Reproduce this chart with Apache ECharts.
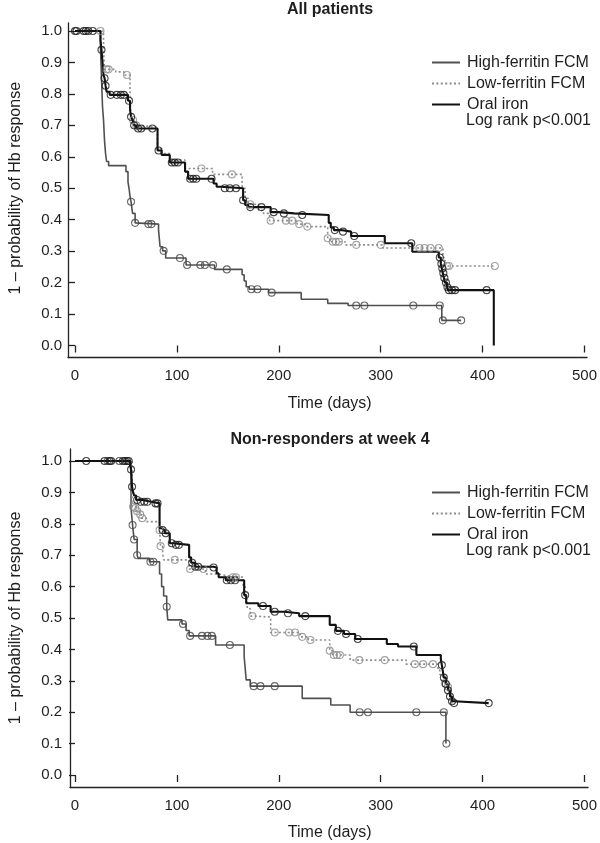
<!DOCTYPE html>
<html>
<head>
<meta charset="utf-8">
<script src="https://cdn.jsdelivr.net/npm/echarts@6/dist/echarts.min.js"></script>
<style>
html,body{margin:0;padding:0;background:#fff;}
#c{width:600px;height:843px;}
</style>
</head>
<body>
<div id="c"></div>
<script>
// ---------- data ----------
const seriesNames = ['High-ferritin FCM', 'Low-ferritin FCM', 'Oral iron'];
const panelTitles = ['All patients', 'Non-responders at week 4'];
const statText = 'Log rank p<0.001';
const xTicks = [0, 100, 200, 300, 400, 500];
const yTicks = [0, 0.1, 0.2, 0.3, 0.4, 0.5, 0.6, 0.7, 0.8, 0.9, 1.0];

// Panel A: All patients  (KM steps [day, survival], censor marks [day, survival])
const allHighSteps = [[0,1],[25,0.95],[26,0.85],[27,0.76],[28,0.717],[29,0.65],[30,0.61],[31,0.585],[33,0.572],[50,0.553],[52,0.52],[53,0.5],[54,0.475],[55,0.457],[56.5,0.42],[59,0.39],[60,0.386],[82,0.367],[83.5,0.314],[86,0.301],[89,0.278],[109,0.256],[137,0.242],[164,0.225],[166,0.205],[168,0.187],[171,0.179],[190,0.168],[222,0.147],[248,0.134],[268,0.127],[360,0.08],[379,0.08]];
const allHighCens = [[55,0.457],[59,0.39],[72,0.386],[75,0.386],[87,0.301],[103,0.278],[110,0.256],[123,0.256],[127.5,0.256],[135.5,0.256],[149,0.242],[173,0.179],[179,0.179],[193,0.168],[276,0.127],[284,0.127],[332,0.127],[358,0.127],[361,0.08],[379,0.08]];
const allLowSteps = [[0,1],[28,0.94],[29,0.878],[40,0.87],[48,0.86],[54,0.78],[55,0.727],[56,0.717],[58,0.7],[62,0.694],[81,0.625],[85,0.61],[93,0.59],[108,0.563],[135,0.544],[164,0.5],[167,0.468],[170,0.449],[180,0.43],[185,0.42],[191,0.397],[218,0.386],[226,0.378],[248,0.341],[250,0.33],[265,0.32],[302,0.31],[361,0.28],[363,0.253],[412,0.253]];
const allLowCens = [[25,1],[31,0.878],[33,0.878],[51,0.86],[57,0.717],[60,0.7],[124,0.563],[154,0.544],[172,0.449],[192,0.397],[207,0.397],[213,0.397],[220,0.386],[228,0.378],[248,0.341],[253,0.33],[256,0.33],[259,0.33],[276,0.32],[300,0.32],[338,0.31],[343,0.31],[349,0.31],[357,0.31],[365,0.253],[367,0.253],[412,0.253]];
const allOralSteps = [[0,1],[25,0.97],[26,0.94],[27,0.9],[28,0.86],[29,0.85],[30,0.826],[31,0.807],[34,0.797],[52,0.778],[54,0.75],[55,0.727],[56.5,0.717],[58,0.7],[60,0.69],[81,0.62],[85,0.606],[93,0.582],[108,0.553],[111,0.53],[136,0.515],[139,0.505],[143,0.5],[165,0.462],[167,0.447],[170,0.44],[192,0.424],[200,0.42],[215,0.415],[249,0.39],[251,0.375],[254,0.367],[261,0.362],[271,0.348],[304,0.325],[331,0.298],[357,0.28],[359,0.26],[360,0.245],[361,0.23],[362,0.215],[363,0.2],[365,0.185],[366,0.176],[411,0]];
const allOralCens = [[0,1],[1.5,1],[8.5,1],[10.5,1],[13,1],[17.5,1],[26,0.94],[29,0.85],[30,0.826],[35,0.797],[41,0.797],[45,0.797],[48,0.797],[53,0.778],[55,0.727],[58,0.7],[62,0.69],[65,0.69],[76,0.69],[82,0.62],[95,0.582],[98,0.582],[101,0.582],[113,0.53],[116,0.53],[119,0.53],[134,0.53],[147,0.5],[152,0.5],[158,0.5],[165,0.462],[172,0.44],[183,0.44],[195,0.424],[205,0.42],[223,0.415],[255,0.367],[263,0.362],[274,0.348],[330,0.325],[358,0.28],[359.5,0.26],[360.5,0.245],[361.5,0.23],[362.5,0.215],[364,0.2],[365.5,0.185],[367,0.176],[370,0.176],[373,0.176],[404,0.176]];

// Panel B: Non-responders at week 4
const nrHighSteps = [[0,1],[55,0.85],[56.5,0.796],[58,0.75],[61,0.7],[62,0.69],[73,0.679],[83,0.64],[85,0.6],[87,0.57],[90,0.536],[91,0.494],[105,0.481],[109,0.46],[112,0.443],[138,0.414],[166,0.377],[167,0.34],[168,0.303],[172,0.283],[223,0.244],[251,0.223],[270,0.2],[364,0.1]];
const nrHighCens = [[32,1],[43.5,1],[56.5,0.796],[58,0.75],[61,0.7],[74,0.679],[77,0.679],[90,0.536],[106,0.481],[113,0.443],[124.6,0.443],[130,0.443],[134.3,0.443],[152,0.414],[175.4,0.283],[182,0.283],[196,0.283],[279.4,0.2],[287.5,0.2],[335,0.2],[362,0.2],[364.5,0.1]];
const nrLowSteps = [[0,1],[56,0.854],[60,0.84],[63,0.83],[65,0.818],[70,0.807],[83,0.78],[84,0.729],[86,0.706],[87,0.685],[112,0.656],[128,0.64],[140,0.635],[150,0.63],[165,0.6],[167,0.56],[169,0.53],[172,0.506],[177,0.503],[192,0.454],[221,0.44],[229,0.43],[250,0.396],[253,0.382],[270,0.366],[325,0.353],[356,0.34],[358,0.32],[361,0.3],[363,0.292],[365,0.281],[367,0.26],[369,0.23],[372,0.23]];
const nrLowCens = [[57,0.854],[59,0.85],[61,0.84],[64,0.83],[66,0.818],[83,0.78],[84,0.729],[98,0.685],[113,0.656],[126,0.656],[155,0.63],[158,0.63],[174,0.506],[196,0.454],[210,0.454],[216,0.454],[223,0.44],[231,0.43],[250,0.396],[254,0.382],[257,0.382],[260,0.382],[279,0.366],[304,0.366],[333.5,0.353],[341.6,0.353],[351.3,0.353],[363,0.292],[366,0.281]];
const nrOralSteps = [[0,1],[54,0.987],[55,0.973],[56,0.918],[57,0.902],[58,0.89],[60,0.876],[66,0.87],[75,0.865],[83,0.786],[85,0.78],[88,0.77],[93,0.738],[96,0.733],[112,0.693],[114,0.676],[118,0.663],[136,0.661],[139,0.642],[141,0.63],[148,0.62],[166,0.573],[168,0.547],[180,0.538],[192,0.52],[205,0.515],[220,0.506],[250,0.478],[256,0.459],[264,0.449],[275,0.433],[306,0.417],[317,0.409],[335,0.382],[359,0.37],[360,0.35],[361,0.33],[362,0.31],[364,0.29],[366,0.27],[368,0.25],[370,0.235],[372,0.229],[406,0.229]];
const nrOralCens = [[11,1],[29,1],[34,1],[35.5,1],[47,1],[49,1],[51,1],[52.7,1],[55,0.973],[56,0.918],[61,0.876],[64.5,0.87],[68,0.87],[71,0.87],[79,0.865],[81,0.865],[86,0.78],[89,0.77],[95,0.738],[99,0.733],[102,0.733],[115,0.676],[118,0.663],[121,0.663],[136,0.661],[149,0.62],[153,0.62],[157,0.62],[167,0.573],[184.5,0.538],[196,0.52],[209,0.515],[226,0.506],[258,0.459],[266,0.449],[277.5,0.433],[332.5,0.409],[360,0.35],[362,0.31],[364,0.29],[366,0.27],[368,0.25],[370,0.235],[372,0.229],[406,0.229]];

// ---------- styling / layout ----------
const TXT = '#1e1e1e';
const FONT = 'Liberation Sans, Arial, sans-serif';
const colors = {high: '#505050', low: '#8c8c8c', oral: '#111111'};
const panels = [
  {main: {left: 72, right: 13, top: 31, height: 314.5}, frame: {left: 68, right: 13, top: 23, height: 334.5}, titleTop: 2, legendTop: 54, statTop: 113,
   data: [allHighSteps, allLowSteps, allOralSteps], cens: [allHighCens, allLowCens, allOralCens]},
  {main: {left: 73.5, right: 12, top: 461, height: 314}, frame: {left: 70, right: 12, top: 449, height: 338.5}, titleTop: 432, legendTop: 484, statTop: 543,
   data: [nrHighSteps, nrLowSteps, nrOralSteps], cens: [nrHighCens, nrLowCens, nrOralCens]}
];

const grid = [], xAxis = [], yAxis = [], series = [], title = [], legend = [];
const lineStyles = [
  {color: colors.high, width: 1.6, type: 'solid'},
  {color: colors.low, width: 1.6, type: [2, 2.4]},
  {color: colors.oral, width: 2.1, type: 'solid'}
];
const censColors = ['#454545', '#8c8c8c', '#1a1a1a'];

panels.forEach((p, i) => {
  grid.push(Object.assign({containLabel: false}, p.main));
  xAxis.push({
    type: 'value', gridIndex: i, min: xTicks[0], max: xTicks[xTicks.length - 1], interval: 100, offset: 12,
    axisLine: {show: false}, splitLine: {show: false},
    axisTick: {show: true, length: 7, lineStyle: {color: '#222', width: 1.3}},
    axisLabel: {fontSize: 15, color: TXT, fontFamily: FONT, margin: 11},
    name: 'Time (days)', nameLocation: 'middle', nameGap: 38,
    nameTextStyle: {fontSize: 16, color: TXT, fontFamily: FONT}
  });
  yAxis.push({
    type: 'value', gridIndex: i, min: yTicks[0], max: yTicks[yTicks.length - 1], interval: 0.1, offset: 4,
    axisLine: {show: false}, splitLine: {show: false},
    axisTick: {show: true, length: 6, lineStyle: {color: '#222', width: 1.3}},
    axisLabel: {fontSize: 15, color: TXT, fontFamily: FONT, margin: 9, formatter: v => v.toFixed(1)},
    name: '1 \u2013 probability of Hb response', nameLocation: 'middle', nameGap: 47,
    nameTextStyle: {fontSize: 16, color: TXT, fontFamily: FONT}
  });
  p.data.forEach((d, k) => {
    series.push({
      name: seriesNames[k], type: 'line', step: 'end', xAxisIndex: i, yAxisIndex: i,
      data: d, symbol: 'none', lineStyle: lineStyles[k], itemStyle: {color: lineStyles[k].color},
      z: 2 + k, silent: true
    });
  });
  p.cens.forEach((d, k) => {
    series.push({
      name: seriesNames[k] + ' (censored)', type: 'scatter', xAxisIndex: i, yAxisIndex: i,
      data: d, symbol: 'circle', symbolSize: 7,
      itemStyle: {color: 'rgba(255,255,255,0)', borderColor: censColors[k], borderWidth: 1.1},
      z: 5 + k, silent: true
    });
  });
  title.push({
    text: panelTitles[i], left: 330, top: p.titleTop, textAlign: 'center', padding: 0,
    textStyle: {fontSize: 16, fontWeight: 'bold', color: TXT, fontFamily: FONT}
  });
  title.push({
    text: statText, left: 466, top: p.statTop, padding: 0,
    textStyle: {fontSize: 16, fontWeight: 'normal', color: TXT, fontFamily: FONT}
  });
  legend.push({
    data: seriesNames.slice(), orient: 'vertical', left: 431, top: p.legendTop, padding: 0,
    itemWidth: 28, itemHeight: 12, itemGap: 4,
    itemStyle: {color: 'rgba(0,0,0,0)', borderColor: 'rgba(0,0,0,0)', borderWidth: 0},
    textStyle: {fontSize: 16, color: TXT, fontFamily: FONT, padding: [0, 0, 0, 2], lineHeight: 17},
    selectedMode: false
  });
});

// frame grids: axis lines that meet in the corner
panels.forEach((p, i) => {
  const gi = panels.length + i;
  grid.push(Object.assign({containLabel: false}, p.frame));
  xAxis.push({type: 'value', gridIndex: gi, min: 0, max: 1, position: 'bottom',
    axisLine: {show: true, onZero: false, lineStyle: {color: '#222', width: 1.3}},
    axisTick: {show: false}, axisLabel: {show: false}, splitLine: {show: false}});
  yAxis.push({type: 'value', gridIndex: gi, min: 0, max: 1, position: 'left',
    axisLine: {show: true, onZero: false, lineStyle: {color: '#222', width: 1.3}},
    axisTick: {show: false}, axisLabel: {show: false}, splitLine: {show: false}});
});

const chart = echarts.init(document.getElementById('c'), null, {renderer: 'canvas'});
chart.setOption({
  animation: false, backgroundColor: '#ffffff',
  grid, xAxis, yAxis, series, title, legend
});
</script>
</body>
</html>
